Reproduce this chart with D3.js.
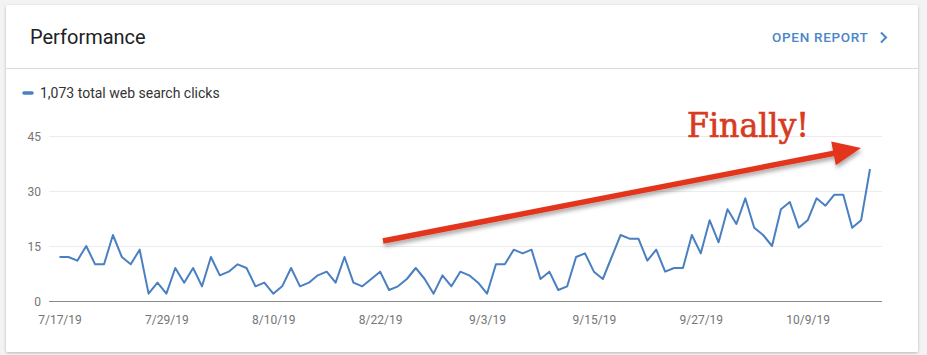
<!DOCTYPE html>
<html><head><meta charset="utf-8">
<script src="https://cdn.jsdelivr.net/npm/d3@7"></script>
<style>
body{margin:0;background:#f3f3f3;}
svg{display:block;}
</style></head>
<body><svg id="c" width="927" height="355"></svg>
<script>
const startDate = "2019-07-17";
const clicks = [12,12,11,15,10,10,18,12,10,14,2,5,2,9,5,9,4,12,7,8,10,9,4,5,2,4,9,4,5,7,8,5,12,5,4,6,8,3,4,6,9,6,2,7,4,8,7,5,2,10,10,14,13,14,6,8,3,4,12,13,8,6,12,18,17,17,11,14,8,9,9,18,13,22,16,25,21,28,20,18,15,25,27,20,22,28,26,29,29,20,22,36];
const yTicks = [0,15,30,45];
const xTickLabels = ["7/17/19","7/29/19","8/10/19","8/22/19","9/3/19","9/15/19","9/27/19","10/9/19"];
const legendText = "1,073 total web search clicks";
const titleText = "Performance";
const linkText = "OPEN REPORT";
const noteText = "Finally!";

const parse = d3.timeParse("%Y-%m-%d");
const t0 = parse(startDate);
const data = clicks.map((v,i)=>({date:d3.timeDay.offset(t0,i), v}));

const svg = d3.select("#c");
const defs = svg.append("defs");
const sh = defs.append("filter").attr("id","sh").attr("x","-5%").attr("y","-5%").attr("width","110%").attr("height","110%");
sh.append("feDropShadow").attr("dx",0).attr("dy",1).attr("stdDeviation",1.5).attr("flood-color","#000").attr("flood-opacity",0.25);
const ash = defs.append("filter").attr("id","ash").attr("x","-10%").attr("y","-50%").attr("width","120%").attr("height","200%");
ash.append("feDropShadow").attr("dx",1).attr("dy",3).attr("stdDeviation",2).attr("flood-color","#000").attr("flood-opacity",0.35);

// card
svg.append("rect").attr("x",6).attr("y",5).attr("width",912).attr("height",347).attr("rx",2)
  .attr("fill","#fff").attr("filter","url(#sh)");
svg.append("line").attr("x1",6).attr("x2",918).attr("y1",68.5).attr("y2",68.5).attr("stroke","#dcdcdc");

svg.append("text").attr("x",30).attr("y",44).text(titleText)
  .attr("font-family","Roboto").attr("font-size",20).attr("fill","#202124");
svg.append("text").attr("x",772).attr("y",42).text(linkText)
  .attr("font-family","Roboto").attr("font-weight",500).attr("font-size",13.5).attr("letter-spacing",0.7).attr("fill","#4a86c8");
svg.append("path").attr("d","M881,32.5 L886,37.5 L881,42.5").attr("fill","none").attr("stroke","#4a86c8").attr("stroke-width",2);

// legend
svg.append("line").attr("x1",24).attr("x2",32).attr("y1",93).attr("y2",93).attr("stroke","#4a80c4").attr("stroke-width",3.5).attr("stroke-linecap","round");
svg.append("text").attr("x",40).attr("y",98).text(legendText)
  .attr("font-family","Roboto").attr("font-size",14).attr("fill","#333");

const x = d3.scaleTime().domain([t0, data[data.length-1].date]).range([59.5, 870]);
const y = d3.scaleLinear().domain([0,45]).range([301,136]);

// gridlines
const g = svg.append("g");
g.selectAll("line.grid").data(yTicks.filter(d=>d>0)).join("line")
  .attr("x1",49).attr("x2",882).attr("y1",d=>Math.round(y(d))+0.5).attr("y2",d=>Math.round(y(d))+0.5)
  .attr("stroke","#ececec");
// y axis labels
const yAxis = d3.axisLeft(y).tickValues(yTicks).tickSize(0).tickPadding(0);
const ya = svg.append("g").attr("transform","translate(41,0)").call(yAxis);
ya.select(".domain").remove();
ya.selectAll("text").attr("font-family","Roboto").attr("font-size",12).attr("fill","#757575").attr("dy","0.35em");

// baseline
svg.append("line").attr("x1",49).attr("x2",882).attr("y1",301.5).attr("y2",301.5).attr("stroke","#8a8a8a").attr("stroke-width",1);

// x axis
const fmt = d3.timeFormat("%-m/%-d/%y");
const xTicks = xTickLabels.map(s=>{const [m,d,yy]=s.split("/").map(Number); return new Date(2000+yy,m-1,d);});
const xAxis = d3.axisBottom(x).tickValues(xTicks).tickFormat(fmt).tickSize(0).tickPadding(0);
const xa = svg.append("g").attr("transform","translate(0,315)").call(xAxis);
xa.select(".domain").remove();
xa.selectAll("text").attr("font-family","Roboto").attr("font-size",12).attr("fill","#757575").attr("dy","0.71em");

// line
svg.append("path").datum(data)
  .attr("d", d3.line().x(d=>x(d.date)).y(d=>y(d.v)))
  .attr("fill","none").attr("stroke","#4a7fc1").attr("stroke-width",2).attr("stroke-linejoin","round");

// annotation arrow
const ag = svg.append("g").attr("filter","url(#ash)");
const ax1=383, ay1=241, ax2=861, ay2=148;
const ang = Math.atan2(ay2-ay1, ax2-ax1);
const hl=28, hw=12;
const bx = ax2 - hl*Math.cos(ang), by = ay2 - hl*Math.sin(ang);
ag.append("line").attr("x1",ax1).attr("y1",ay1).attr("x2",bx+2*Math.cos(ang)).attr("y2",by+2*Math.sin(ang))
  .attr("stroke","#e2341d").attr("stroke-width",5.5);
const px = -Math.sin(ang), py = Math.cos(ang);
ag.append("path").attr("d",`M${ax2},${ay2} L${bx+px*hw},${by+py*hw} L${bx-px*hw},${by-py*hw} Z`).attr("fill","#e2341d");

svg.append("text").attr("x",687).attr("y",137).text(noteText)
  .attr("font-family","DejaVu Serif, serif").attr("font-size",33).attr("fill","#d83a22")
  .attr("stroke","#d83a22").attr("stroke-width",0.7)
  .attr("textLength",122).attr("lengthAdjust","spacingAndGlyphs");
</script></body></html>
